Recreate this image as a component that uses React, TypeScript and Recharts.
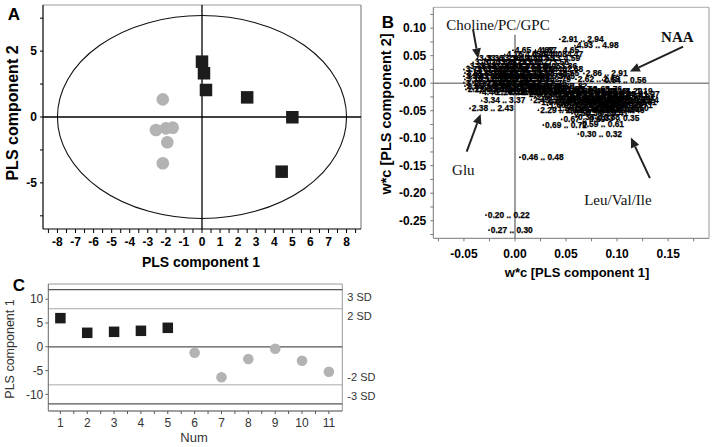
import React from 'react';
import { ScatterChart, Scatter, XAxis, YAxis, ReferenceLine, ReferenceArea } from 'recharts';

const FONT = '"Liberation Sans", Arial, Helvetica, sans-serif';
const SERIF = '"Liberation Serif", "Times New Roman", serif';

// ---------- Panel A : PLS score plot ----------
const groupSquaresA = [
  { x: 0.0, y: 4.2 }, { x: 0.11, y: 3.32 }, { x: 0.22, y: 2.05 },
  { x: 2.5, y: 1.49 }, { x: 5.0, y: -0.02 }, { x: 4.41, y: -4.15 },
];
const groupCirclesA = [
  { x: -2.17, y: 1.34 }, { x: -2.55, y: -0.99 }, { x: -2.0, y: -0.86 },
  { x: -1.62, y: -0.81 }, { x: -1.92, y: -1.92 }, { x: -2.17, y: -3.51 },
];
const ellipseA = { rx: 8, ry: 7.7 };
const xMajorA = [-8, -7, -6, -5, -4, -3, -2, -1, 0, 1, 2, 3, 4, 5, 6, 7, 8];
const xMinorA = [-8.5, -7.5, -6.5, -5.5, -4.5, -3.5, -2.5, -1.5, -0.5, 0.5, 1.5, 2.5, 3.5, 4.5, 5.5, 6.5, 7.5, 8.5];
const yMajorA = [-5, 0, 5];
const yMinorA = [-7.5, -2.5, 2.5, 7.5];

// ---------- Panel B : loading plot ----------
const loadingsUpperLeft: [number, number, string][] = [
  [-0.002, 0.060, '4.65 .. 4.67'], [0.020, 0.060, '4.62 .. 4.65'],
  [-0.010, 0.052, '4.16 .. 4.19'], [0.008, 0.052, '4.05 .. 4.08'], [0.024, 0.052, '4.44 .. 4.47'],
  [-0.037, 0.045, '3.33 .. 3.36'], [-0.029, 0.045, '3.36 .. 3.39'], [-0.016, 0.045, '3.27 .. 3.30'], [0.002, 0.045, '4.10 .. 4.13'], [0.021, 0.045, '4.55 .. 4.59'],
  [-0.041, 0.038, '3.70 .. 3.73'], [-0.032, 0.038, '3.20 .. 3.23'], [-0.020, 0.038, '3.64 .. 3.67'], [-0.006, 0.038, '3.24 .. 3.27'], [0.010, 0.038, '3.53 .. 3.56'],
  [-0.046, 0.031, '3.76 .. 3.79'], [-0.036, 0.031, '3.58 .. 3.61'], [-0.024, 0.031, '3.44 .. 3.47'], [-0.012, 0.031, '3.80 .. 3.83'], [0.002, 0.031, '3.92 .. 3.95'], [0.018, 0.031, '3.84 .. 3.86'],
  [-0.050, 0.025, '3.73 .. 3.76'], [-0.040, 0.025, '3.67 .. 3.70'], [-0.030, 0.025, '3.50 .. 3.53'], [-0.018, 0.025, '4.22 .. 4.25'], [-0.006, 0.025, '3.88 .. 3.91'], [0.008, 0.025, '2.46 .. 2.48'], [0.024, 0.025, '2.64 .. 2.68'],
  [-0.049, 0.019, '3.61 .. 3.64'], [-0.039, 0.019, '3.85 .. 3.88'], [-0.028, 0.019, '3.40 .. 3.43'], [-0.016, 0.019, '4.14 .. 4.17'], [-0.004, 0.019, '3.95 .. 3.98'], [0.008, 0.019, '1.46 .. 1.48'], [0.020, 0.019, '2.52 .. 2.55'],
  [-0.050, 0.013, '3.55 .. 3.58'], [-0.043, 0.013, '3.47 .. 3.50'], [-0.033, 0.013, '3.98 .. 4.01'], [-0.021, 0.013, '4.28 .. 4.31'], [-0.009, 0.013, '2.55 .. 2.58'], [0.004, 0.013, '2.70 .. 2.73'], [0.016, 0.013, '3.02 .. 3.05'],
  [-0.049, 0.007, '3.10 .. 3.13'], [-0.038, 0.007, '3.14 .. 3.17'], [-0.026, 0.007, '2.80 .. 2.83'], [-0.014, 0.007, '2.67 .. 2.70'], [-0.004, 0.007, '1.88 .. 1.90'], [0.012, 0.007, '2.76 .. 2.79'],
  [-0.050, 0.001, '3.17 .. 3.20'], [-0.041, 0.001, '2.92 .. 2.95'], [-0.030, 0.001, '2.58 .. 2.61'], [-0.018, 0.001, '4.34 .. 4.37'], [-0.005, 0.001, '2.49 .. 2.52'], [0.008, 0.001, '2.73 .. 2.76'],
  [-0.049, -0.005, '2.25 .. 2.28'], [-0.036, -0.005, '2.16 .. 2.19'], [-0.022, -0.005, '2.06 .. 2.09'], [-0.008, -0.005, '1.27 .. 1.30'], [0.006, -0.005, '1.85 .. 1.88'],
  [-0.048, -0.011, '2.12 .. 2.15'], [-0.041, -0.011, '2.00 .. 2.04'], [-0.028, -0.011, '4.20 .. 4.23'], [-0.012, -0.011, '1.95 .. 1.98'], [0.004, -0.011, '1.91 .. 1.95'],
  [-0.034, -0.017, '4.40 .. 4.43'], [-0.020, -0.017, '2.19 .. 2.22'], [-0.006, -0.017, '3.05 .. 3.08'],
];
const loadingsLowerRight: [number, number, string][] = [
  [0.003, -0.005, '1.30 .. 1.33'], [0.015, -0.005, '1.82 .. 1.85'], [0.028, -0.005, '1.79 .. 1.82'],
  [0.010, -0.010, '1.69 .. 1.72'], [0.024, -0.010, '1.62 .. 1.65'], [0.038, -0.010, '1.57 .. 1.60'], [0.050, -0.010, '1.65 .. 1.68'], [0.062, -0.010, '1.74 .. 1.76'],
  [0.004, -0.015, '2.32 .. 2.35'], [0.018, -0.015, '1.52 .. 1.55'], [0.032, -0.015, '1.49 .. 1.52'], [0.046, -0.015, '1.42 .. 1.45'], [0.058, -0.015, '1.38 .. 1.41'], [0.070, -0.015, '1.45 .. 1.48'], [0.082, -0.015, '1.19 .. 1.22'], [0.092, -0.015, '1.16 .. 1.19'],
  [0.012, -0.020, '2.08 .. 2.11'], [0.026, -0.020, '1.35 .. 1.38'], [0.040, -0.020, '1.10 .. 1.13'], [0.052, -0.020, '1.05 .. 1.08'], [0.064, -0.020, '1.13 .. 1.16'], [0.076, -0.020, '0.98 .. 1.01'], [0.088, -0.020, '1.08 .. 1.11'], [0.099, -0.020, '1.24 .. 1.27'],
  [0.020, -0.025, '2.01 .. 2.04'], [0.034, -0.025, '1.02 .. 1.05'], [0.046, -0.025, '0.95 .. 0.98'], [0.058, -0.025, '0.92 .. 0.95'], [0.070, -0.025, '1.00 .. 1.03'], [0.082, -0.025, '0.89 .. 0.92'], [0.094, -0.025, '0.94 .. 0.97'],
  [0.016, -0.030, '2.43 .. 2.46'], [0.030, -0.030, '1.33 .. 1.36'], [0.042, -0.030, '0.86 .. 0.89'], [0.054, -0.030, '0.90 .. 0.93'], [0.066, -0.030, '0.83 .. 0.86'], [0.078, -0.030, '0.96 .. 0.99'], [0.090, -0.030, '0.87 .. 0.90'], [0.098, -0.030, '1.21 .. 1.24'],
  [0.024, -0.035, '1.97 .. 2.00'], [0.038, -0.035, '0.80 .. 0.83'], [0.050, -0.035, '0.77 .. 0.80'], [0.062, -0.035, '0.84 .. 0.87'], [0.074, -0.035, '0.91 .. 0.94'], [0.086, -0.035, '0.82 .. 0.85'], [0.096, -0.035, '0.78 .. 0.81'],
  [0.032, -0.040, '1.60 .. 1.63'], [0.046, -0.040, '0.74 .. 0.77'], [0.058, -0.040, '0.71 .. 0.74'], [0.070, -0.040, '0.79 .. 0.82'], [0.082, -0.040, '0.76 .. 0.79'], [0.092, -0.040, '0.68 .. 0.71'],
  [0.040, -0.045, '1.55 .. 1.58'], [0.054, -0.045, '0.65 .. 0.68'], [0.066, -0.045, '0.62 .. 0.65'], [0.078, -0.045, '0.73 .. 0.76'], [0.088, -0.045, '0.47 .. 0.50'],
  [0.023, -0.049, '2.29 .. 2.32'], [0.050, -0.049, '0.56 .. 0.59'], [0.062, -0.049, '0.53 .. 0.56'], [0.074, -0.049, '0.41 .. 0.44'], [0.084, -0.049, '0.44 .. 0.46'],
  [0.056, -0.055, '0.50 .. 0.53'], [0.068, -0.055, '0.38 .. 0.41'],
];
const loadingsIsolated: [number, number, string][] = [
  [0.044, 0.080, '2.91 .. 2.94'], [0.0587, 0.0684, '4.93 .. 4.98'],
  [0.0675, 0.018, '2.86 .. 2.91'], [0.0597, 0.0073, '2.62 .. 2.65'], [0.0858, 0.006, '0.54 .. 0.56'],
  [-0.0326, -0.0316, '3.34 .. 3.37'], [-0.044, -0.0455, '2.38 .. 2.43'],
  [0.0457, -0.0655, '0.67 .. 0.69'], [0.060, -0.061, '0.35 .. 0.38'], [0.079, -0.064, '0.33 .. 0.35'],
  [0.0277, -0.0758, '0.69 .. 0.72'], [0.064, -0.075, '0.59 .. 0.61'], [0.062, -0.092, '0.30 .. 0.32'],
  [0.0049, -0.1345, '0.46 .. 0.48'], [-0.0284, -0.2395, '0.20 .. 0.22'], [-0.0254, -0.2667, '0.27 .. 0.30'],
];
const annotationTexts = [
  { x: -0.0166, y: 0.106, text: 'Choline/PC/GPC' },
  { x: 0.159, y: 0.0847, text: 'NAA' },
  { x: -0.0506, y: -0.1576, text: 'Glu' },
  { x: 0.1008, y: -0.2122, text: 'Leu/Val/Ile' },
];
const boldAnnotations = ['NAA'];
// [fromX, fromY, toX, toY] in loading units
const arrowSegments: [number, number, number, number][] = [
  [-0.041, 0.097, -0.036, 0.045],
  [0.1647, 0.0665, 0.1125, 0.0211],
  [-0.0473, -0.1244, -0.0336, -0.0558],
  [0.1321, -0.1727, 0.1135, -0.0989],
];
const xMajorB = [-0.05, 0, 0.05, 0.1, 0.15];
const xLabelsB = ['-0.05', '0.00', '0.05', '0.10', '0.15'];
const xMinorB = [-0.075, -0.025, 0.025, 0.075, 0.125, 0.175];
const yMajorB = [0.1, 0.05, 0, -0.05, -0.1, -0.15, -0.2, -0.25];
const yLabelsB = ['0.10', '0.05', '-0.00', '-0.05', '-0.10', '-0.15', '-0.20', '-0.25'];
const yMinorB = [0.125, 0.075, 0.025, -0.025, -0.075, -0.125, -0.175, -0.225, -0.275];

// ---------- Panel C : score line plot ----------
const sampleNums = [1, 2, 3, 4, 5, 6, 7, 8, 9, 10, 11];
const groupScoresC1 = [6.02, 2.94, 3.15, 3.36, 3.99];
const groupScoresC2 = [-1.26, -6.42, -2.58, -0.42, -2.94, -5.25];
const sdLevels = [12, 8, -8, -12];
const sdLabels = ['3 SD', '2 SD', '-2 SD', '-3 SD'];
const xTicksC = [1, 1.5, 2, 2.5, 3, 3.5, 4, 4.5, 5, 5.5, 6, 6.5, 7, 7.5, 8, 8.5, 9, 9.5, 10, 10.5, 11];
const yTicksC = [-10, -5, 0, 5, 10];

const near = (a: number, b: number) => Math.abs(a - b) < 1e-9;
const intLabel = (majors: number[]) => (v: number) => (majors.some((m) => near(m, v)) ? String(v) : '');
const mapLabel = (vals: number[], labels: string[]) => (v: number) => {
  const i = vals.findIndex((t) => near(t, v));
  return i >= 0 ? labels[i] : '';
};
const sortNum = (a: number[]) => [...a].sort((p, q) => p - q);

const squareShape = (size: number, fill: string) => (p: any) => (
  <rect x={p.cx - size / 2} y={p.cy - size / 2} width={size} height={size} fill={fill} />
);
const circleShape = (r: number, fill: string) => (p: any) => <circle cx={p.cx} cy={p.cy} r={r} fill={fill} />;

const loadingShape = (p: any) => (
  <g>
    <polygon points={`${p.cx},${p.cy - 1.4} ${p.cx - 1.2},${p.cy + 0.9} ${p.cx + 1.2},${p.cy + 0.9}`} fill="#000" />
    <text
      x={p.cx + 1.8}
      y={p.cy}
      dy="0.34em"
      fontSize={8.4}
      fontWeight="bold"
      fontFamily={FONT}
      fill="#000"
      stroke="#000"
      strokeWidth={0.25}
    >
      {p.payload.label}
    </text>
  </g>
);
const annotationShape = (p: any) => (
  <text
    x={p.cx}
    y={p.cy}
    dy="0.33em"
    textAnchor="middle"
    fontSize={15}
    fontWeight={boldAnnotations.includes(p.payload.text) ? 'bold' : 'normal'}
    fontFamily={SERIF}
    fill="#111"
  >
    {p.payload.text}
  </text>
);
const arrowShape = (p: any) => {
  const { x1, y1, x2, y2 } = p;
  const dx = x2 - x1;
  const dy = y2 - y1;
  const len = Math.hypot(dx, dy) || 1;
  const ux = dx / len;
  const uy = dy / len;
  const hl = 10;
  const hw = 4.5;
  const bx = x2 - ux * hl;
  const by = y2 - uy * hl;
  return (
    <g>
      <line x1={x1} y1={y1} x2={bx} y2={by} stroke="#222" strokeWidth={2} />
      <polygon points={`${x2},${y2} ${bx - uy * hw},${by + ux * hw} ${bx + uy * hw},${by - ux * hw}`} fill="#222" />
    </g>
  );
};
const ellipseShape = (p: any) => (
  <ellipse cx={p.x + p.width / 2} cy={p.y + p.height / 2} rx={p.width / 2} ry={p.height / 2} fill="none" stroke="#111" strokeWidth={1.1} />
);

const Txt = ({ x, y, children, size, bold, rotate, color, family }: any) => (
  <div
    style={{
      position: 'absolute',
      left: x,
      top: y,
      transform: `translate(-50%, -50%)${rotate ? ' rotate(-90deg)' : ''}`,
      whiteSpace: 'nowrap',
      fontSize: size,
      fontWeight: bold ? 'bold' : 'normal',
      fontFamily: family || FONT,
      color: color || '#000',
      lineHeight: 1,
    }}
  >
    {children}
  </div>
);

const layer: React.CSSProperties = { position: 'absolute', left: 0, top: 0 };

export default function App() {
  const W = 714;
  const H = 447;
  const loadData = [...loadingsUpperLeft, ...loadingsLowerRight, ...loadingsIsolated].map(([x, y, label]) => ({ x, y, label }));
  const c1 = groupScoresC1.map((y, i) => ({ x: sampleNums[i], y }));
  const c2 = groupScoresC2.map((y, i) => ({ x: sampleNums[i + groupScoresC1.length], y }));
  const tickA = { fill: '#000', fontSize: 12, fontWeight: 'bold', fontFamily: FONT };
  const tickC = { fill: '#333', fontSize: 12, fontFamily: FONT };

  return (
    <div style={{ position: 'absolute', left: 0, top: 0, width: W, height: H, background: '#fff', overflow: 'hidden' }}>
      {/* Panel A */}
      <div style={layer}>
        <ScatterChart width={W} height={H} margin={{ top: 5, left: 13, right: W - 361, bottom: H - 229 - 25 }}>
          <XAxis
            type="number"
            dataKey="x"
            domain={[-8.8, 8.8]}
            allowDataOverflow
            ticks={sortNum([...xMajorA, ...xMinorA.filter((v) => v > -8.8 && v < 8.8)])}
            interval={0}
            tickFormatter={intLabel(xMajorA)}
            tickSize={4}
            tickMargin={4}
            height={25}
            axisLine={{ stroke: '#000', strokeWidth: 1.2 }}
            tickLine={{ stroke: '#000' }}
            tick={tickA}
          />
          <YAxis
            type="number"
            dataKey="y"
            domain={[-8.5, 8.5]}
            allowDataOverflow
            ticks={sortNum([...yMajorA, ...yMinorA])}
            interval={0}
            tickFormatter={intLabel(yMajorA)}
            tickSize={3}
            tickMargin={3}
            width={30}
            axisLine={{ stroke: '#000', strokeWidth: 1.2 }}
            tickLine={{ stroke: '#000' }}
            tick={tickA}
          />
          <ReferenceLine y={8.5} stroke="#999" strokeWidth={1.2} />
          <ReferenceLine x={8.8} stroke="#888" strokeWidth={1.2} />
          <ReferenceLine y={0} stroke="#000" strokeWidth={1.3} />
          <ReferenceLine x={0} stroke="#000" strokeWidth={1.3} />
          <ReferenceArea x1={-ellipseA.rx} x2={ellipseA.rx} y1={-ellipseA.ry} y2={ellipseA.ry} shape={ellipseShape} />
          <Scatter data={groupCirclesA} isAnimationActive={false} shape={circleShape(6.3, '#b3b3b3')} />
          <Scatter data={groupSquaresA} isAnimationActive={false} shape={squareShape(12.5, '#1c1c1c')} />
        </ScatterChart>
      </div>

      {/* Panel B */}
      <div style={layer}>
        <ScatterChart width={W} height={H} margin={{ top: 7.3, left: 433.3 - 40, right: W - 709, bottom: H - 238.3 - 25 }}>
          <XAxis
            type="number"
            dataKey="x"
            domain={[-0.08, 0.19]}
            allowDataOverflow
            ticks={sortNum([...xMajorB, ...xMinorB])}
            interval={0}
            tickFormatter={mapLabel(xMajorB, xLabelsB)}
            tickSize={3}
            tickMargin={8}
            height={25}
            axisLine={{ stroke: '#777', strokeWidth: 1 }}
            tickLine={{ stroke: '#777' }}
            tick={tickA}
          />
          <YAxis
            type="number"
            dataKey="y"
            domain={[-0.282, 0.138]}
            allowDataOverflow
            ticks={sortNum([...yMajorB, ...yMinorB])}
            interval={0}
            tickFormatter={mapLabel(yMajorB, yLabelsB)}
            tickSize={3}
            tickMargin={4}
            width={40}
            axisLine={{ stroke: '#777', strokeWidth: 1 }}
            tickLine={{ stroke: '#777' }}
            tick={tickA}
          />
          <ReferenceLine y={0.138} stroke="#aaa" strokeWidth={1} />
          <ReferenceLine x={0.19} stroke="#999" strokeWidth={1} />
          <ReferenceLine y={0} stroke="#888" strokeWidth={1.6} />
          <ReferenceLine segment={[{ x: 0, y: 0.088 }, { x: 0, y: -0.282 }]} stroke="#888" strokeWidth={1.6} />
          <Scatter data={loadData} isAnimationActive={false} shape={loadingShape} />
          <Scatter data={annotationTexts} isAnimationActive={false} shape={annotationShape} />
          {arrowSegments.map((s, i) => (
            <ReferenceLine key={i} segment={[{ x: s[0], y: s[1] }, { x: s[2], y: s[3] }]} shape={arrowShape} />
          ))}
        </ScatterChart>
      </div>

      {/* Panel C */}
      <div style={layer}>
        <ScatterChart width={W} height={H} margin={{ top: 284, left: 48.3 - 30, right: W - 342.3, bottom: H - 411 - 25 }}>
          <XAxis
            type="number"
            dataKey="x"
            domain={[0.55, 11.5]}
            allowDataOverflow
            ticks={xTicksC}
            interval={0}
            tickFormatter={intLabel(sampleNums)}
            tickSize={3}
            tickMargin={4}
            height={25}
            axisLine={{ stroke: '#444', strokeWidth: 1.2 }}
            tickLine={{ stroke: '#555' }}
            tick={tickC}
          />
          <YAxis
            type="number"
            dataKey="y"
            domain={[-13.5, 13.2]}
            allowDataOverflow
            ticks={yTicksC}
            interval={0}
            tickSize={3}
            tickMargin={2}
            width={30}
            axisLine={{ stroke: '#666', strokeWidth: 1 }}
            tickLine={{ stroke: '#666' }}
            tick={tickC}
          />
          <ReferenceLine y={13.2} stroke="#999" strokeWidth={1} />
          <ReferenceLine x={11.5} stroke="#999" strokeWidth={1} />
          <ReferenceLine y={0} stroke="#555" strokeWidth={1.2} />
          {sdLevels.map((v, i) => (
            <ReferenceLine
              key={v}
              y={v}
              stroke={Math.abs(v) > 10 ? '#555' : '#aaa'}
              strokeWidth={Math.abs(v) > 10 ? 1.2 : 1}
              label={{
                value: sdLabels[i],
                position: 'right',
                offset: 5,
                dy: v > 0 ? 7 : -8,
                fill: '#333',
                fontSize: 11,
                fontFamily: FONT,
              }}
            />
          ))}
          <Scatter data={c2} isAnimationActive={false} shape={circleShape(5.3, '#b3b3b3')} />
          <Scatter data={c1} isAnimationActive={false} shape={squareShape(10.5, '#1c1c1c')} />
        </ScatterChart>
      </div>

      {/* Titles and panel letters */}
      <Txt x={14} y={14} size={17} bold>A</Txt>
      <Txt x={388} y={22} size={17} bold>B</Txt>
      <Txt x={19} y={285} size={17} bold>C</Txt>
      <Txt x={13} y={113} size={16} bold rotate>PLS component 2</Txt>
      <Txt x={201} y={262} size={14} bold>PLS component 1</Txt>
      <Txt x={386} y={114} size={14.5} bold rotate>w*c [PLS component 2]</Txt>
      <Txt x={577} y={271.5} size={13} bold>w*c [PLS component 1]</Txt>
      <Txt x={10} y={349} size={12.5} rotate color="#333">PLS component 1</Txt>
      <Txt x={194} y={437} size={13} color="#333">Num</Txt>
    </div>
  );
}
